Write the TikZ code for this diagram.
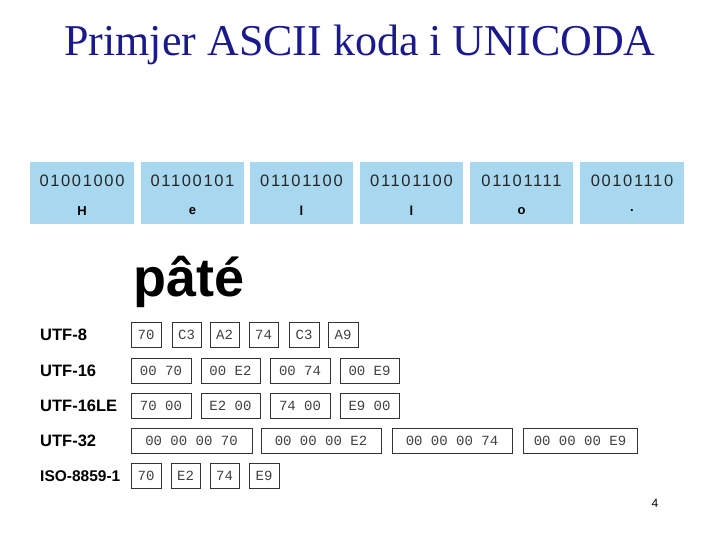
\documentclass[tikz,border=0pt]{standalone}
\usepackage{fontspec}
\setmainfont{Liberation Serif}
\newfontfamily\arial{Liberation Sans}
\newfontfamily\arialw[LetterSpace=10]{Liberation Sans}
\newfontfamily\cour{Liberation Mono}
\definecolor{cellblue}{HTML}{A8D8F0}
\definecolor{titleblue}{HTML}{1A1A8C}
\begin{document}
\begin{tikzpicture}[x=1pt,y=-1pt,
  cell/.style={fill=cellblue,draw=none},
  bin/.style={font=\arialw\fontsize{16.5}{16.5}\selectfont,text=black!85},
  let/.style={font=\arial\bfseries\fontsize{13}{13}\selectfont},
  hb/.style={draw=black!80,line width=0.8pt,font=\cour\fontsize{14}{14}\selectfont,text=black!75,inner sep=0pt},
  lab/.style={font=\arial\bfseries\fontsize{16.5}{16.5}\selectfont,anchor=west,inner sep=0pt}]
\useasboundingbox (0,0) rectangle (720,540);
\node[font=\fontsize{44}{44}\selectfont,text=titleblue] (title) at (360,45) {Primjer ASCII koda i UNICODA};
\foreach \a/\b/\bits/\ch [count=\i] in {30/134/01001000/H,141/244/01100101/e,250/353/01101100/l,360/463/01101100/l,470/573/01101111/o,580/684/00101110/.}{
  \fill[cell] (\a,162) rectangle (\b,224);
  \node[bin] (bin\i) at ({(\a+\b)/2},181) {\bits};
  \node[let] (ch\i) at ({(\a+\b)/2},211) {\ch};
}
\node[font=\arial\bfseries\fontsize{54}{54}\selectfont,anchor=west,inner sep=0pt] (pate) at (133,282) {pâté};
\node[lab] (l1) at (40,335) {UTF-8};
\node[lab] (l2) at (40,371) {UTF-16};
\node[lab] (l3) at (40,406) {UTF-16LE};
\node[lab] (l4) at (40,441) {UTF-32};
\node[lab,font=\arial\bfseries\fontsize{15.5}{15.5}\selectfont] (l5) at (40,476) {ISO-8859-1};
\foreach \a/\b/\t [count=\i] in {131/161/70,172/201/C3,210/239/A2,249/278/74,289/319/C3,328/358/A9}
  \node[hb,minimum width={(\b-\a)*1pt},minimum height=25pt] (u8\i) at ({(\a+\b)/2},335) {\t};
\foreach \a/\b/\t [count=\i] in {131/191/00 70,201/260/00 E2,270/330/00 74,340/399/00 E9}
  \node[hb,minimum width={(\b-\a)*1pt},minimum height=25pt] (u16\i) at ({(\a+\b)/2},371) {\t};
\foreach \a/\b/\t [count=\i] in {131/191/70 00,201/260/E2 00,270/330/74 00,340/399/E9 00}
  \node[hb,minimum width={(\b-\a)*1pt},minimum height=25pt] (ule\i) at ({(\a+\b)/2},406) {\t};
\foreach \a/\b/\t [count=\i] in {131/252/00 00 00 70,261/381/00 00 00 E2,392/512/00 00 00 74,523/637/00 00 00 E9}
  \node[hb,minimum width={(\b-\a)*1pt},minimum height=25pt] (u32\i) at ({(\a+\b)/2},441) {\t};
\foreach \a/\b/\t [count=\i] in {131/161/70,171/200/E2,210/239/74,249/279/E9}
  \node[hb,minimum width={(\b-\a)*1pt},minimum height=25pt] (iso\i) at ({(\a+\b)/2},476) {\t};
\node[font=\arial\fontsize{12}{12}\selectfont] (pg) at (655,503) {4};
\end{tikzpicture}
\end{document}
